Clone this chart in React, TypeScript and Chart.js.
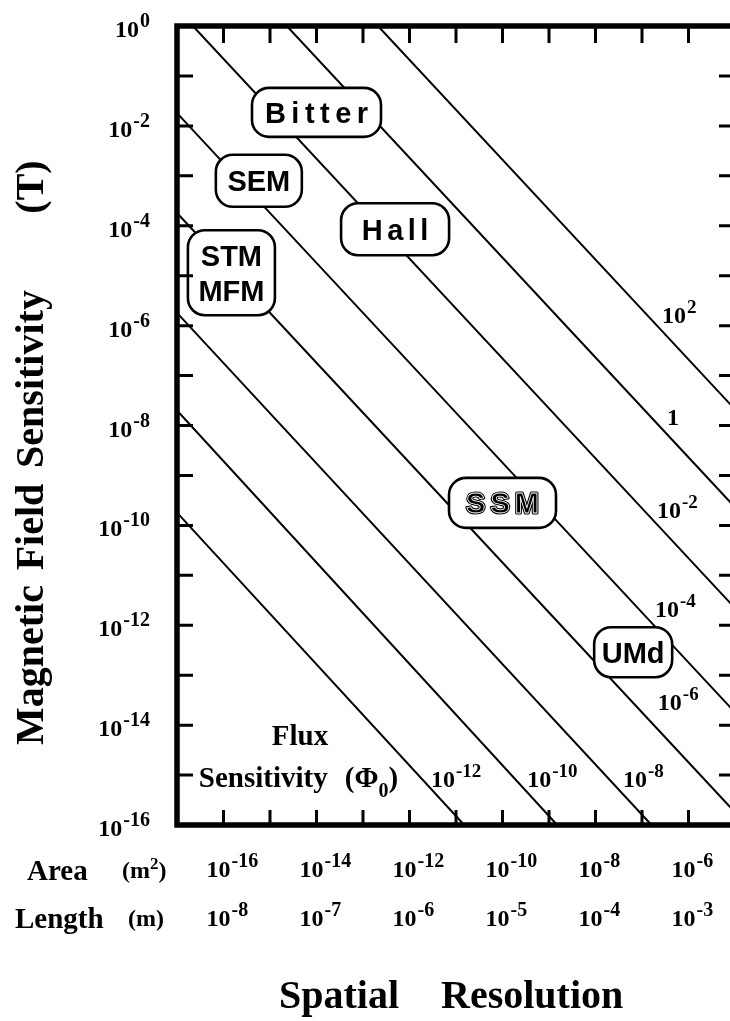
import React, { useEffect, useRef } from 'react';
import { Chart, registerables } from 'chart.js';

Chart.register(...registerables);

// ---------- data ----------
// Flux-sensitivity contours, labelled in units of Φ0 (exponent of 10)
const fluxExponents = ['2', '0', '-2', '-4', '-6', '-8', '-10', '-12'];
// contour end points: area (m²) and field (T)
const lineStartArea = [2.1e-13, 2.3e-15, 2.2e-17, 1e-17, 1e-17, 1e-17, 1e-17, 1e-17];
const lineStartField = [1, 1, 1, 1.8e-2, 1.8e-4, 1.8e-6, 2.0e-8, 1.8e-10];
const lineEndArea = [1e-5, 1e-5, 1e-5, 1e-5, 1e-5, 1.6e-7, 1.5e-9, 1.5e-11];
const lineEndField = [2.1e-8, 2.3e-10, 2.2e-12, 1.8e-14, 1.8e-16, 1e-16, 1e-16, 1e-16];
// where each contour label sits (log10 area, log10 field) – left edge / baseline
const fluxLabelLogArea = [-6.57, -6.46, -6.68, -6.72, -6.66, -7.41, -9.47, -11.54];
const fluxLabelLogField = [-5.95, -7.99, -9.85, -11.83, -13.7, -15.24, -15.24, -15.24];

// axis tick labels
const fieldTickExponents = ['0', '-2', '-4', '-6', '-8', '-10', '-12', '-14', '-16'];
const areaTickExponents = ['-16', '-14', '-12', '-10', '-8', '-6'];
const lengthTickExponents = ['-8', '-7', '-6', '-5', '-4', '-3'];

// measurement techniques (box centre in log10 area / log10 field)
const techniqueNames = [['Bitter'], ['SEM'], ['Hall'], ['STM', 'MFM'], ['SSM'], ['UMd']];
const techniqueLogArea = [-14.0, -15.24, -12.31, -15.83, -10.0, -7.19];
const techniqueLogField = [-1.73, -3.1, -4.07, -4.94, -9.55, -12.54];

// ---------- styling / layout ----------
const SERIF = '"Liberation Serif", "DejaVu Serif", serif';
const SANS = '"Liberation Sans", Arial, sans-serif';
const boxSizes = [
  [129, 49],
  [86, 52],
  [108, 52],
  [87, 85],
  [107, 50],
  [78, 50],
];
const boxSpacing = [5.5, 0, 4.5, 0, 5, 0];

function drawPow(
  ctx: CanvasRenderingContext2D,
  x: number,
  y: number,
  base: string,
  exp: string,
  baseSize: number,
  supSize: number,
  raise: number,
  align: 'left' | 'right' | 'center'
) {
  ctx.font = `bold ${baseSize}px ${SERIF}`;
  const bw = base ? ctx.measureText(base).width : 0;
  ctx.font = `bold ${supSize}px ${SERIF}`;
  const sw = exp ? ctx.measureText(exp).width : 0;
  const gap = base ? 1 : 0;
  const total = bw + gap + sw;
  const left = align === 'right' ? x - total : align === 'center' ? x - total / 2 : x;
  ctx.textAlign = 'left';
  ctx.textBaseline = 'alphabetic';
  if (base) {
    ctx.font = `bold ${baseSize}px ${SERIF}`;
    ctx.fillText(base, left, y);
  }
  ctx.font = `bold ${supSize}px ${SERIF}`;
  ctx.fillText(exp, left + bw + gap, y - raise);
}

function roundRect(ctx: CanvasRenderingContext2D, x: number, y: number, w: number, h: number, r: number) {
  ctx.beginPath();
  ctx.moveTo(x + r, y);
  ctx.lineTo(x + w - r, y);
  ctx.arcTo(x + w, y, x + w, y + r, r);
  ctx.lineTo(x + w, y + h - r);
  ctx.arcTo(x + w, y + h, x + w - r, y + h, r);
  ctx.lineTo(x + r, y + h);
  ctx.arcTo(x, y + h, x, y + h - r, r);
  ctx.lineTo(x, y + r);
  ctx.arcTo(x, y, x + r, y, r);
  ctx.closePath();
}

const decorPlugin = {
  id: 'decor',
  afterDatasetsDraw(chart: any) {
    const ctx: CanvasRenderingContext2D = chart.ctx;
    const xs = chart.scales.x;
    const ys = chart.scales.y;
    const px = (la: number) => xs.getPixelForValue(Math.pow(10, la));
    const py = (lb: number) => ys.getPixelForValue(Math.pow(10, lb));
    const { left, right, top, bottom } = chart.chartArea;
    ctx.save();
    ctx.fillStyle = '#000';
    ctx.strokeStyle = '#000';
    ctx.lineJoin = 'round';

    // technique boxes
    techniqueNames.forEach((lines, i) => {
      const cx = px(techniqueLogArea[i]);
      const cy = py(techniqueLogField[i]);
      const [w, h] = boxSizes[i];
      roundRect(ctx, cx - w / 2, cy - h / 2, w, h, 17);
      ctx.fillStyle = '#fff';
      ctx.fill();
      ctx.lineWidth = 2.6;
      ctx.strokeStyle = '#000';
      ctx.stroke();
      ctx.font = `bold 29px ${SANS}`;
      (ctx as any).letterSpacing = `${boxSpacing[i]}px`;
      ctx.textAlign = 'center';
      ctx.textBaseline = 'alphabetic';
      const lh = 35;
      lines.forEach((t, j) => {
        const ty = cy + 10.5 + (j - (lines.length - 1) / 2) * lh;
        const tx = cx + boxSpacing[i] / 2;
        if (t === 'SSM') {
          ctx.lineWidth = 3;
          ctx.strokeStyle = '#000';
          ctx.strokeText(t, tx, ty);
          ctx.fillStyle = '#000';
          ctx.fillText(t, tx, ty);
          ctx.lineWidth = 0.8;
          ctx.strokeStyle = '#fff';
          ctx.strokeText(t, tx, ty);
        } else {
          ctx.fillStyle = '#000';
          ctx.fillText(t, tx, ty);
        }
      });
      (ctx as any).letterSpacing = '0px';
    });

    ctx.fillStyle = '#000';
    ctx.strokeStyle = '#000';
    // contour labels
    fluxExponents.forEach((e, i) => {
      const x = px(fluxLabelLogArea[i]);
      const y = py(fluxLabelLogField[i]);
      if (e === '0') {
        ctx.font = `bold 24px ${SERIF}`;
        ctx.textAlign = 'left';
        ctx.fillText('1', x, y);
      } else {
        drawPow(ctx, x, y, '10', e, 24, 19, 10, 'left');
      }
    });

    // "Flux Sensitivity (Φ0)"
    ctx.font = `bold 29px ${SERIF}`;
    ctx.textAlign = 'center';
    ctx.fillText('Flux', px(-14.355), py(-14.4));
    const sx = px(-16.53);
    const sy = py(-15.24);
    ctx.textAlign = 'left';
    ctx.fillText('Sensitivity', sx, sy);
    let cx = sx + ctx.measureText('Sensitivity').width + 17;
    ctx.fillText('(Φ', cx, sy);
    cx += ctx.measureText('(Φ').width;
    ctx.font = `bold 20px ${SERIF}`;
    ctx.fillText('0', cx, sy + 10);
    cx += ctx.measureText('0').width;
    ctx.font = `bold 29px ${SERIF}`;
    ctx.fillText(')', cx, sy);

    // frame
    const bw = 5.5;
    ctx.lineWidth = bw;
    ctx.lineJoin = 'miter';
    ctx.beginPath();
    ctx.moveTo(left, top - bw / 2);
    ctx.lineTo(left, bottom + bw / 2);
    ctx.moveTo(left - bw / 2, top);
    ctx.lineTo(right + bw / 2, top);
    ctx.moveTo(left - bw / 2, bottom);
    ctx.lineTo(right + bw / 2, bottom);
    ctx.moveTo(right, top - bw / 2);
    ctx.lineTo(right, bottom + bw / 2);
    ctx.stroke();

    // ticks
    ctx.lineWidth = 3;
    ctx.beginPath();
    for (let k = -16; k <= -6; k++) {
      const x = px(k);
      ctx.moveTo(x, top);
      ctx.lineTo(x, top + 17);
      ctx.moveTo(x, bottom);
      ctx.lineTo(x, bottom - 15);
    }
    for (let k = -1; k >= -15; k--) {
      const y = py(k);
      ctx.moveTo(left, y);
      ctx.lineTo(left + 16, y);
      ctx.moveTo(right, y);
      ctx.lineTo(right - 16, y);
    }
    ctx.stroke();

    // field tick labels
    fieldTickExponents.forEach((e) => {
      const y = py(Number(e));
      drawPow(ctx, 150, y + 11, '10', e, 24, 20, 10, 'right');
    });

    // area and length rows
    areaTickExponents.forEach((e, i) => {
      const x = px(Number(e)) - 17;
      drawPow(ctx, x, 877, '10', e, 24, 20, 10, 'left');
      drawPow(ctx, x, 926, '10', lengthTickExponents[i], 24, 20, 10, 'left');
    });
    ctx.font = `bold 29px ${SERIF}`;
    ctx.textAlign = 'left';
    ctx.fillText('Area', 27, 880);
    ctx.fillText('Length', 15, 928);
    ctx.font = `bold 24px ${SERIF}`;
    let ax = 122;
    ctx.fillText('(m', ax, 878);
    ax += ctx.measureText('(m').width;
    ctx.font = `bold 17px ${SERIF}`;
    ctx.fillText('2', ax, 869);
    ax += ctx.measureText('2').width;
    ctx.font = `bold 24px ${SERIF}`;
    ctx.fillText(')', ax, 878);
    ctx.fillText('(m)', 128, 926);

    // x title
    ctx.font = `bold 40px ${SERIF}`;
    ctx.fillText('Spatial', 279, 1008);
    ctx.fillText('Resolution', 279 + ctx.measureText('Spatial').width + 42, 1008);

    // y title (rotated words)
    const words: [string, number][] = [
      ['Magnetic', 665],
      ['Field', 527],
      ['Sensitivity', 379],
      ['(T)', 187],
    ];
    words.forEach(([w, c]) => {
      ctx.save();
      ctx.translate(43, c);
      ctx.rotate(-Math.PI / 2);
      ctx.textAlign = 'center';
      ctx.fillText(w, 0, 0);
      ctx.restore();
    });

    ctx.restore();
  },
};

export default function App() {
  const ref = useRef<HTMLCanvasElement | null>(null);
  useEffect(() => {
    if (!ref.current) return;
    const datasets = fluxExponents.map((e, i) => ({
      label: `1e${e} Φ0`,
      data: [
        { x: lineStartArea[i], y: lineStartField[i] },
        { x: lineEndArea[i], y: lineEndField[i] },
      ],
      borderColor: '#000',
      borderWidth: 2,
      pointRadius: 0,
      tension: 0,
      fill: false,
    }));
    const chart = new Chart(ref.current, {
      type: 'line',
      data: { datasets },
      options: {
        responsive: false,
        animation: false,
        devicePixelRatio: 1,
        layout: { padding: { left: 177, top: 26, right: 25, bottom: 196 } },
        plugins: { legend: { display: false }, tooltip: { enabled: false } },
        scales: {
          x: { type: 'logarithmic', min: 1e-17, max: 1e-5, display: false },
          y: { type: 'logarithmic', min: 1e-16, max: 1, display: false },
        },
      },
      plugins: [decorPlugin],
    } as any);
    return () => chart.destroy();
  }, []);
  return (
    <div
      style={{
        position: 'fixed',
        left: 0,
        top: 0,
        width: 730,
        height: 1021,
        overflow: 'hidden',
        background: '#fff',
      }}
    >
      <canvas ref={ref} width={760} height={1021} style={{ display: 'block', width: 760, height: 1021 }} />
    </div>
  );
}
